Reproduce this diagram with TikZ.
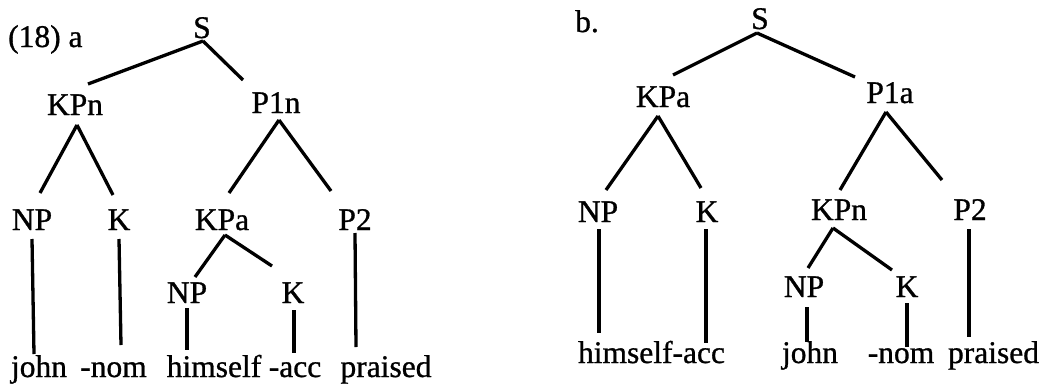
\documentclass[tikz,border=0pt]{standalone}
\usepackage{fontspec}
\newfontfamily\scanfont{Liberation Serif}[FakeBold=0.9]
\begin{document}
\begin{tikzpicture}[x=1pt,y=-1pt,
  lab/.style={inner sep=0pt,anchor=base,font=\scanfont\fontsize{31.5}{36}\selectfont},
  br/.style={line width=3.3pt}]
\useasboundingbox (0,0) rectangle (1057,388);
\newcommand\edg[6]{\draw[br] ([shift={(#2)}]#1.base) -- ([shift={(#4)}]#3.base);}
% ---------- tree a ----------
\node[lab,anchor=base west] (la) at (8,47) {(18) a};
\node[lab] (aS) at (202,38) {S};
\node[lab] (aKPn) at (75,115) {KPn};
\node[lab] (aP1n) at (276,113) {P1n};
\node[lab] (aNP1) at (32,230) {NP};
\node[lab] (aK1) at (119,230) {K};
\node[lab] (aKPa) at (222,230) {KPa};
\node[lab] (aP2) at (355,230) {P2};
\node[lab] (aNP2) at (187,303) {NP};
\node[lab] (aK2) at (293,303) {K};
\node[lab] (ajohn) at (39,377) {john};
\node[lab] (anom) at (113.5,377) {-nom};
\node[lab] (ahim) at (214,377) {himself};
\node[lab] (aacc) at (295,377) {-acc};
\node[lab] (apr) at (386,377) {praised};
\edg{aS}{1,3}{aKPn}{13,-31}{}{}
\edg{aS}{1,3}{aP1n}{-33,-33}{}{}
\edg{aKPn}{2,10}{aNP1}{8,-37}{}{}
\edg{aKPn}{2,10}{aK1}{-6,-35}{}{}
\edg{aP1n}{3,7}{aKPa}{7,-37}{}{}
\edg{aP1n}{3,7}{aP2}{-24,-39}{}{}
\edg{aNP1}{0,9}{ajohn}{-5,-23}{}{}
\edg{aK1}{0,9}{anom}{7.5,-32}{}{}
\edg{aP2}{0,3}{apr}{-30,-30}{}{}
\edg{aKPa}{3,5}{aNP2}{8,-26}{}{}
\edg{aKPa}{3,5}{aK2}{-21,-37}{}{}
\edg{aNP2}{0,5}{ahim}{-27,-27}{}{}
\edg{aK2}{1,7}{aacc}{-1,-24}{}{}
% ---------- tree b ----------
\node[lab,anchor=base west] (lb) at (575,32) {b.};
\node[lab] (bS) at (760,29) {S};
\node[lab] (bKPa) at (663,107) {KPa};
\node[lab] (bP1a) at (890,103) {P1a};
\node[lab] (bNP1) at (598,222) {NP};
\node[lab] (bK1) at (707,222) {K};
\node[lab] (bKPn) at (839,220) {KPn};
\node[lab] (bP2) at (970,220) {P2};
\node[lab] (bNP2) at (804,297) {NP};
\node[lab] (bK2) at (907,297) {K};
\node[lab] (bhim) at (651.5,363) {himself-acc};
\node[lab] (bjohn) at (810,363) {john};
\node[lab] (bnom) at (901,363) {-nom};
\node[lab] (bpr) at (993.5,363) {praised};
\edg{bS}{-3,4}{bKPa}{10,-32}{}{}
\edg{bS}{-3,4}{bP1a}{-35,-26}{}{}
\edg{bKPa}{-5,9}{bNP1}{8,-32}{}{}
\edg{bKPa}{-5,9}{bK1}{-6,-34}{}{}
\edg{bP1a}{-4,9}{bKPn}{1,-30}{}{}
\edg{bP1a}{-4,9}{bP2}{-28,-40}{}{}
\edg{bNP1}{1,7}{bhim}{-52.5,-30}{}{}
\edg{bK1}{-1,7}{bhim}{54.5,-20}{}{}
\edg{bP2}{-1,9}{bpr}{-24.5,-26}{}{}
\edg{bKPn}{-6,8}{bNP2}{4,-29}{}{}
\edg{bKPn}{-6,8}{bK2}{-15,-27}{}{}
\edg{bNP2}{3,10}{bjohn}{-3,-21}{}{}
\edg{bK2}{0,6}{bnom}{6,-16}{}{}
\end{tikzpicture}
\end{document}
